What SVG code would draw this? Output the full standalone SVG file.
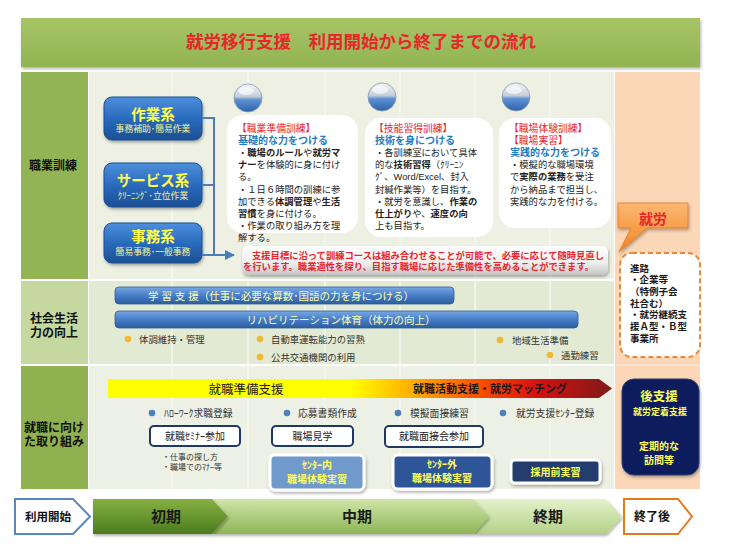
<svg xmlns="http://www.w3.org/2000/svg" width="740" height="555" viewBox="0 0 740 555">
<defs>
<style>
text{font-family:"Liberation Sans","Noto Sans CJK JP","Noto Sans CJK SC",sans-serif;}
.lbl{font-size:12px;font-weight:bold;fill:#111;text-anchor:middle}
.body{font-size:9.3px;fill:#222}
.b{font-weight:bold}
.red{fill:#e8262b;font-size:9.8px}
.head{fill:#1f7dc4;font-weight:bold;font-size:10px}
.typeT{font-size:14.5px;font-weight:bold;fill:#ffff4a;text-anchor:middle}
.typeS{font-size:8.8px;fill:#f3f39c;text-anchor:middle}
.bul{font-size:9.4px;fill:#333}
.bul3{font-size:9.8px;fill:#333}
.ytx{font-size:10px;font-weight:bold;fill:#ffff5a;text-anchor:middle}
.obox{fill:#fff;stroke:#1f3864;stroke-width:2}
.otx{font-size:10px;fill:#222;text-anchor:middle}
.phase{font-size:15px;font-weight:bold;fill:#1a1a1a;text-anchor:middle}
.barT{font-size:10.5px;fill:#ffffa8;text-anchor:middle}
.note{font-size:9.3px;font-weight:bold;fill:#e8262b}
.shin{font-size:9.5px;font-weight:bold;fill:#1a1a1a}
.ato{font-weight:bold;fill:#ffff55;text-anchor:middle}
.grid{stroke:#f8f9f3;stroke-width:1.2}
.ydot{fill:#f0b92e}
.bdot{fill:#4f7fbb}
.typebox{fill:url(#gBlueBox);stroke:#1d4f8f;stroke-width:1}
.bar{fill:url(#gBar);stroke:#2c5d9c;stroke-width:0.8}
.card{fill:#fff}
.sph{fill:url(#gSph);stroke:#8a9bb0;stroke-width:0.8}
.hl{fill:#fff;opacity:0.6}
</style>
<linearGradient id="gTitle" x1="0" y1="0" x2="0" y2="1"><stop offset="0" stop-color="#a6c466"/><stop offset="1" stop-color="#92b453"/></linearGradient>
<linearGradient id="gBlueBox" x1="0" y1="0" x2="0" y2="1"><stop offset="0" stop-color="#4d8fdc"/><stop offset="0.5" stop-color="#2a6bbd"/><stop offset="1" stop-color="#1b4f94"/></linearGradient>
<linearGradient id="gBar" x1="0" y1="0" x2="0" y2="1"><stop offset="0" stop-color="#7aa8e2"/><stop offset="0.45" stop-color="#4a82cc"/><stop offset="1" stop-color="#2b5c9f"/></linearGradient>
<linearGradient id="gSph" x1="0" y1="0" x2="0" y2="1"><stop offset="0" stop-color="#f4f6f9"/><stop offset="0.45" stop-color="#c3cdd9"/><stop offset="0.56" stop-color="#5d92d3"/><stop offset="1" stop-color="#2d62ac"/></linearGradient>
<linearGradient id="gNote" x1="0" y1="0" x2="0" y2="1"><stop offset="0" stop-color="#ffffff"/><stop offset="0.6" stop-color="#eeeeee"/><stop offset="1" stop-color="#c4c4c4"/></linearGradient>
<linearGradient id="gOrange" x1="0" y1="0" x2="0" y2="1"><stop offset="0" stop-color="#fcb870"/><stop offset="1" stop-color="#f08628"/></linearGradient>
<linearGradient id="gArrow" x1="108" y1="0" x2="612" y2="0" gradientUnits="userSpaceOnUse"><stop offset="0" stop-color="#ffff00"/><stop offset="0.48" stop-color="#ffff00"/><stop offset="0.6" stop-color="#ffb000"/><stop offset="0.72" stop-color="#ff5a00"/><stop offset="0.85" stop-color="#d81010"/><stop offset="1" stop-color="#7e1a1a"/></linearGradient>
<linearGradient id="gEarly" x1="0" y1="0" x2="0" y2="1"><stop offset="0" stop-color="#86b043"/><stop offset="1" stop-color="#4d7b1d"/></linearGradient>
<linearGradient id="gMid" x1="0" y1="0" x2="0" y2="1"><stop offset="0" stop-color="#cfe5a9"/><stop offset="1" stop-color="#8fb555"/></linearGradient>
<linearGradient id="gLate" x1="0" y1="0" x2="0" y2="1"><stop offset="0" stop-color="#e4f1cc"/><stop offset="1" stop-color="#b2d286"/></linearGradient>
<marker id="arrB" viewBox="0 0 10 10" refX="9" refY="5" markerWidth="5" markerHeight="5" orient="auto" markerUnits="strokeWidth"><path d="M0,0 L10,5 L0,10 Z" fill="#4a7ebb"/></marker>
<filter id="sh" x="-10%" y="-20%" width="130%" height="160%"><feDropShadow dx="1" dy="2" stdDeviation="1.5" flood-color="#000" flood-opacity="0.3"/></filter>
</defs>

<g id="title">
<rect x="21" y="18" width="679" height="49" fill="url(#gTitle)" filter="url(#sh)"/>
<text x="361" y="48" font-size="17.5" font-weight="bold" fill="#e8262b" text-anchor="middle">就労移行支援　利用開始から終了までの流れ</text>
</g>

<g id="rows">
<rect x="21" y="72" width="67" height="207" fill="#93b455"/>
<rect x="21" y="281" width="67" height="83" fill="#c5d89f"/>
<rect x="21" y="366" width="67" height="123" fill="#8fb150"/>
<rect x="89" y="72" width="525" height="207" fill="#edf0e3"/>
<rect x="89" y="281" width="525" height="83" fill="#e3ead4"/>
<rect x="89" y="366" width="525" height="123" fill="#edf0e4"/>
<rect x="615" y="72" width="85" height="417" fill="#fbd6b7"/>
<line x1="615" y1="280" x2="700" y2="280" stroke="#fde6d3" stroke-width="1.5"/>
<line x1="615" y1="365" x2="700" y2="365" stroke="#fde6d3" stroke-width="1.5"/>
<g class="grid">
<line x1="172" y1="72" x2="172" y2="489"/>
<line x1="248" y1="72" x2="248" y2="489"/>
<line x1="325" y1="72" x2="325" y2="489"/>
<line x1="400" y1="72" x2="400" y2="489"/>
<line x1="475" y1="72" x2="475" y2="489"/>
<line x1="550" y1="72" x2="550" y2="489"/>
</g>
<text class="lbl" x="53" y="169.5">職業訓練</text>
<text class="lbl" x="54" y="322.5">社会生活</text>
<text class="lbl" x="54" y="336.5">力の向上</text>
<text class="lbl" x="54" y="432" font-size="11">就職に向け</text>
<text class="lbl" x="54" y="446" font-size="11">た取り組み</text>
</g>

<g id="type-sagyo">
<rect class="typebox" x="104" y="97" width="98" height="43" rx="8" filter="url(#sh)"/>
<text class="typeT" x="153" y="119.5">作業系</text>
<text class="typeS" x="153" y="132">事務補助･簡易作業</text>
</g>
<g id="type-service">
<rect class="typebox" x="104" y="163" width="98" height="44" rx="8" filter="url(#sh)"/>
<text class="typeT" x="153" y="186">サービス系</text>
<text class="typeS" x="153" y="199">ｸﾘｰﾆﾝｸﾞ･立位作業</text>
</g>
<g id="type-jimu">
<rect class="typebox" x="104" y="223" width="98" height="40" rx="8" filter="url(#sh)"/>
<text class="typeT" x="153" y="242">事務系</text>
<text class="typeS" x="153" y="255">簡易事務･一般事務</text>
</g>

<g id="connectors" fill="none" stroke="#4a7ebb" stroke-width="2">
<path d="M202,118 H214 V255"/>
<path d="M202,185 H214"/>
<path d="M202,255 H234" marker-end="url(#arrB)"/>
</g>

<g id="card-junbi">
<circle class="sph" cx="248" cy="98" r="14"/>
<ellipse class="hl" cx="246" cy="91" rx="8" ry="4"/>
<rect class="card" x="227" y="115" width="131" height="118" rx="16"/>
<text class="red" x="237" y="131.5">【職業準備訓練】</text>
<text class="head" x="238" y="143.7">基礎的な力をつける</text>
<text class="body" x="238" y="155.9">・<tspan class="b">職場のルール</tspan>や<tspan class="b">就労マ</tspan></text>
<text class="body" x="238" y="168.1"><tspan class="b">ナー</tspan>を体験的に身に付け</text>
<text class="body" x="238" y="180.3">る。</text>
<text class="body" x="238" y="192.5">・１日６時間の訓練に参</text>
<text class="body" x="238" y="204.7">加できる<tspan class="b">体調管理</tspan>や<tspan class="b">生活</tspan></text>
<text class="body" x="238" y="216.9"><tspan class="b">習慣</tspan>を身に付ける。</text>
<text class="body" x="238" y="229.1">・作業の取り組み方を理</text>
<text class="body" x="238" y="241.3">解する。</text>
</g>

<g id="card-gino">
<circle class="sph" cx="382" cy="97" r="14"/>
<ellipse class="hl" cx="380" cy="90" rx="8" ry="4"/>
<rect class="card" x="365" y="118" width="128" height="119" rx="16"/>
<text class="red" x="374" y="131.5">【技能習得訓練】</text>
<text class="head" x="375" y="143.7">技術を身につける</text>
<text class="body" x="375" y="155.9">・各訓練室において具体</text>
<text class="body" x="375" y="168.1">的な<tspan class="b">技術習得</tspan>（ｸﾘｰﾆﾝ</text>
<text class="body" x="375" y="180.3">ｸﾞ、Word/Excel、封入</text>
<text class="body" x="375" y="192.5">封緘作業等）を目指す。</text>
<text class="body" x="375" y="204.7">・就労を意識し、<tspan class="b">作業の</tspan></text>
<text class="body" x="375" y="216.9"><tspan class="b">仕上がり</tspan>や、<tspan class="b">速度の向</tspan></text>
<text class="body" x="375" y="229.1">上も目指す。</text>
</g>

<g id="card-taiken">
<circle class="sph" cx="516" cy="97" r="14"/>
<ellipse class="hl" cx="514" cy="90" rx="8" ry="4"/>
<rect class="card" x="499" y="118" width="112" height="110" rx="16"/>
<text class="red" x="509" y="131.5">【職場体験訓練】</text>
<text class="red" x="509" y="143.7">【職場実習】</text>
<text class="head" x="510" y="155.9">実践的な力をつける</text>
<text class="body" x="510" y="168.1">・模擬的な職場環境</text>
<text class="body" x="510" y="180.3">で<tspan class="b">実際の業務</tspan>を受注</text>
<text class="body" x="510" y="192.5">から納品まで担当し、</text>
<text class="body" x="510" y="204.7">実践的な力を付ける。</text>
</g>

<g id="note">
<rect x="242" y="246" width="366" height="29" rx="6" fill="url(#gNote)" filter="url(#sh)"/>
<text class="note" x="252" y="258.5">支援目標に沿って訓練コースは組み合わせることが可能で、必要に応じて随時見直し</text>
<text class="note" x="243" y="270">を行います。職業適性を探り、目指す職場に応じた準備性を高めることができます。</text>
</g>

<g id="shuro">
<path d="M618,203 H688 V228 H647 L619,252 L631,228 H618 Z" fill="url(#gOrange)" stroke="#e07a22" stroke-width="0.8" filter="url(#sh)"/>
<text x="653" y="224" font-size="14" font-weight="bold" fill="#e8262b" text-anchor="middle">就労</text>
</g>
<g id="shinro">
<rect x="620" y="253" width="80" height="104" rx="12" fill="#fff" stroke="#e8893a" stroke-width="2" stroke-dasharray="5 3"/>
<text class="shin" x="630" y="271.5">進路</text>
<text class="shin" x="630" y="283.2">・企業等</text>
<text class="shin" x="630" y="294.9">（特例子会</text>
<text class="shin" x="630" y="306.6">社合む）</text>
<text class="shin" x="630" y="318.3">・就労継続支</text>
<text class="shin" x="630" y="330">援Ａ型・Ｂ型</text>
<text class="shin" x="630" y="341.7">事業所</text>
</g>

<g id="bar-gakushu">
<rect class="bar" x="115" y="287" width="339" height="17" rx="4"/>
<text class="barT" x="281" y="299.5">学 習 支 援（仕事に必要な算数･国語の力を身につける）</text>
</g>
<g id="bar-riha">
<rect class="bar" x="115" y="311" width="463" height="17" rx="4"/>
<text class="barT" x="341" y="323.5">リハビリテーション体育（体力の向上）</text>
</g>
<g id="social-items">
<circle class="ydot" cx="128" cy="339" r="3.3"/><text class="bul" x="139" y="342.5">体調維持・管理</text>
<circle class="ydot" cx="260" cy="339" r="3.3"/><text class="bul" x="271" y="342.5">自動車運転能力の習熟</text>
<circle class="ydot" cx="260" cy="357" r="3.3"/><text class="bul" x="271" y="360.5">公共交通機関の利用</text>
<circle class="ydot" cx="500" cy="340" r="3.3"/><text class="bul" x="512" y="343.5">地域生活準備</text>
<circle class="ydot" cx="550" cy="355" r="3.3"/><text class="bul" x="561" y="358.5">通勤練習</text>
</g>

<g id="support-arrow">
<path d="M108,379 H599 L612,388.5 L599,398 H108 Z" fill="url(#gArrow)"/>
<text x="246" y="393.5" font-size="12.5" fill="#1a1a1a" text-anchor="middle">就職準備支援</text>
<text x="490" y="392.5" font-size="11" font-weight="bold" fill="#1a1a1a" text-anchor="middle">就職活動支援・就労マッチング</text>
</g>
<g id="job-items">
<circle class="bdot" cx="152" cy="413" r="3.3"/><text class="bul3" x="164" y="416.5">ﾊﾛｰﾜｰｸ求職登録</text>
<circle class="bdot" cx="287" cy="413" r="3.3"/><text class="bul3" x="298" y="416.5">応募書類作成</text>
<circle class="bdot" cx="398" cy="413" r="3.3"/><text class="bul3" x="410" y="416.5">模擬面接練習</text>
<circle class="bdot" cx="503" cy="413" r="3.3"/><text class="bul3" x="516" y="416.5">就労支援ｾﾝﾀｰ登録</text>
</g>
<g id="seminar">
<rect class="obox" x="150" y="426" width="90" height="20" rx="4"/>
<text class="otx" x="195" y="439.5">就職ｾﾐﾅｰ参加</text>
<text x="162" y="460" font-size="8" fill="#333">・仕事の探し方</text>
<text x="162" y="469.5" font-size="8" fill="#333">・職場でのﾏﾅｰ等</text>
</g>
<g id="kengaku">
<rect class="obox" x="272" y="426" width="81" height="20" rx="4"/>
<text class="otx" x="312.5" y="439.5">職場見学</text>
</g>
<g id="mensetsu">
<rect class="obox" x="385" y="426" width="98" height="21" rx="4"/>
<text class="otx" x="434" y="440">就職面接会参加</text>
</g>
<g id="center-in">
<rect x="270" y="455" width="94" height="35" rx="5" fill="#6f99cc" stroke="#fff" stroke-width="3" filter="url(#sh)"/>
<text class="ytx" x="317" y="469">ｾﾝﾀｰ内</text>
<text class="ytx" x="317" y="482.5" font-size="10.5">職場体験実習</text>
</g>
<g id="center-out">
<rect x="393" y="455" width="99" height="34" rx="5" fill="#2e5597" stroke="#fff" stroke-width="3" filter="url(#sh)"/>
<text class="ytx" x="442" y="468">ｾﾝﾀｰ外</text>
<text class="ytx" x="442" y="481.5">職場体験実習</text>
</g>
<g id="saiyo">
<rect x="511" y="460" width="89" height="23" rx="4" fill="#213c6e" stroke="#fff" stroke-width="3" filter="url(#sh)"/>
<text class="ytx" x="555.5" y="475.5">採用前実習</text>
</g>
<g id="atoshien">
<rect x="622" y="379" width="77" height="96" rx="12" fill="#0f1f5c" stroke="#2a3d7a" stroke-width="1" filter="url(#sh)"/>
<text class="ato" x="659" y="401" font-size="12.5">後支援</text>
<text class="ato" x="660" y="415" font-size="9">就労定着支援</text>
<text class="ato" x="659" y="450" font-size="10">定期的な</text>
<text class="ato" x="659" y="463.5" font-size="10">訪問等</text>
</g>

<g id="start">
<path d="M15,499 H73 L90,516.5 L73,534 H15 Z" fill="#fff" stroke="#5b87c0" stroke-width="2"/>
<text x="48" y="520.5" font-size="11.5" font-weight="bold" fill="#111" text-anchor="middle">利用開始</text>
</g>
<g id="phase-late">
<path d="M473,499 H606 L622,516.5 L606,534 H473 L489,516.5 Z" fill="url(#gLate)" filter="url(#sh)"/>
<text class="phase" x="548" y="522">終期</text>
</g>
<g id="phase-mid">
<path d="M212,499 H473 L489,516.5 L473,534 H212 L228,516.5 Z" fill="url(#gMid)" filter="url(#sh)"/>
<text class="phase" x="357" y="522">中期</text>
</g>
<g id="phase-early">
<path d="M93,499 H212 L228,516.5 L212,534 H93 Z" fill="url(#gEarly)" filter="url(#sh)"/>
<text class="phase" x="166" y="522">初期</text>
</g>
<g id="end">
<path d="M624,499 H678 L692,516.5 L678,534 H624 Z" fill="#fff" stroke="#e07b20" stroke-width="2"/>
<text x="652" y="521" font-size="12" font-weight="bold" fill="#111" text-anchor="middle">終了後</text>
</g>
</svg>
